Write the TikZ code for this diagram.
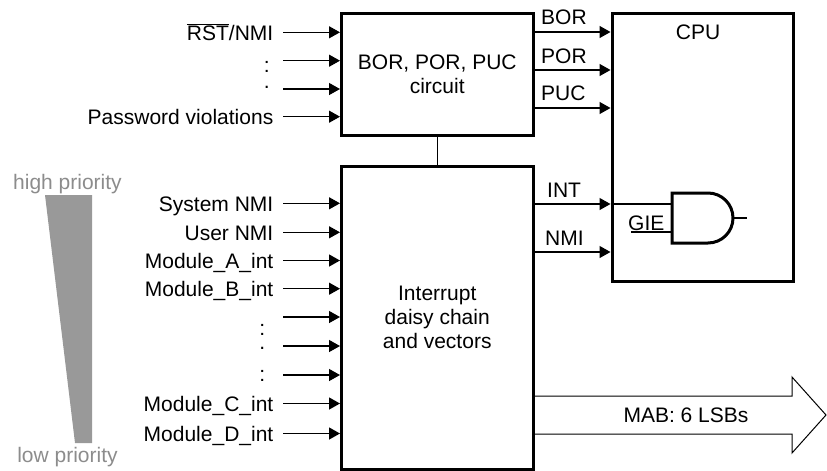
\documentclass[tikz,border=0pt]{standalone}
\usepackage{fontspec}
\setmainfont{Liberation Sans}
\usetikzlibrary{arrows.meta}
\begin{document}
\begin{tikzpicture}[x=1pt,y=-1pt,
  every node/.style={font=\fontsize{21}{24}\selectfont},
  box/.style={draw, line width=3pt, inner sep=0pt, align=center},
  lab/.style={anchor=east, inner xsep=9.5pt, inner ysep=0pt, text height=16pt, text depth=0pt},
  dotlab/.style={anchor=base east, inner sep=0pt},
  olab/.style={anchor=base west, inner sep=0pt},
  arr/.style={line width=1.3pt, -{Triangle[length=11pt,width=12pt]}},
  wire/.style={line width=1.1pt},
  prio/.style={text=black!45, inner sep=0pt, anchor=base},
]
\useasboundingbox (0,0) rectangle (827,471);

% main blocks
\node[box, minimum width=191.5pt, minimum height=122.5pt] (bpc) at (437.25,74.5) {BOR, POR, PUC\\circuit};
\node[box, minimum width=191.5pt, minimum height=303pt] (idc) at (437.25,317.5) {Interrupt\\daisy chain\\and vectors};
\node[box, minimum width=181pt, minimum height=268pt] (cpu) at (702.5,147) {};
\node (cputxt) at (698,32) {CPU};

\draw[wire] (bpc.south) -- (idc.north);

% inputs of the reset circuit
\node[lab] (rst) at (283,32.3) {$\overline{\mbox{RST}}$/NMI};
\node[lab] (pwd) at (283,116.7) {Password violations};
\node[dotlab] (d1) at (270,72.5) {:};
\node[dotlab] (d2) at (270,88.5) {.};
\coordinate (s1) at (283,60.7);
\coordinate (s2) at (283,89);
\foreach \n in {rst,s1,s2,pwd} \draw[arr] (\n.east) -- (\n.east -| bpc.west);

% inputs of the interrupt chain
\node[lab] (sys) at (283,203.3) {System NMI};
\node[lab] (usr) at (283,232.3) {User NMI};
\node[lab] (ma) at (283,260.5) {Module\_A\_int};
\node[lab] (mb) at (283,288.7) {Module\_B\_int};
\node[lab] (mc) at (283,403.5) {Module\_C\_int};
\node[lab] (md) at (283,433.5) {Module\_D\_int};
\node[dotlab] (d3) at (265.5,335) {:};
\node[dotlab] (d4) at (265.5,349) {.};
\node[dotlab] (d5) at (265.5,381) {:};
\coordinate (s3) at (283,317);
\coordinate (s4) at (283,346);
\coordinate (s5) at (283,375);
\foreach \n in {sys,usr,ma,mb,s3,s4,s5,mc,md} \draw[arr] (\n.east) -- (\n.east -| idc.west);

% reset outputs
\coordinate (ybor) at (0,32);
\coordinate (ypor) at (0,70);
\coordinate (ypuc) at (0,108);
\draw[arr] (bpc.east |- ybor) -- (cpu.west |- ybor);
\draw[arr] (bpc.east |- ypor) -- (cpu.west |- ypor);
\draw[arr] (bpc.east |- ypuc) -- (cpu.west |- ypuc);
\node[olab] (lbor) at (541,24) {BOR};
\node[olab] (lpor) at (541,63) {POR};
\node[olab] (lpuc) at (541,100.5) {PUC};

% interrupt outputs
\coordinate (yint) at (0,204);
\coordinate (ynmi) at (0,252);
\draw[arr] (idc.east |- yint) -- (cpu.west |- yint);
\draw[arr] (idc.east |- ynmi) -- (cpu.west |- ynmi);
\node[olab] (lint) at (547,197) {INT};
\node[olab] (lnmi) at (545,245) {NMI};

% AND gate
\coordinate (gin1) at (672,204);
\coordinate (gin2) at (672,232);
\coordinate (gie) at (631,232);
\coordinate (gout) at (733,218);
\coordinate (gend) at (747,218);
\draw[wire] (cpu.west |- yint) -- (gin1);
\draw[wire] (gie) -- (gin2);
\node[olab] (lgie) at (628,230) {GIE};
\draw[line width=3pt, line join=miter] (672,193) -- (708,193)
  .. controls (721.8,193) and (733,204.2) .. (gout)
  .. controls (733,231.8) and (721.8,243) .. (708,243) -- (672,243) -- cycle;
\draw[wire] (gout) -- (gend);

% MAB bus arrow
\coordinate (ymab1) at (0,396);
\coordinate (ymab2) at (0,434);
\draw[line width=1pt, line join=miter] (idc.east |- ymab1) -- (792,396) -- (792,377) -- (826,415)
  -- (792,453) -- (792,434) -- (idc.east |- ymab2);
\node (lmab) at (686,415) {MAB: 6 LSBs};

% priority wedge
\fill[black!40] (45,195) -- (92,195) -- (92,443) -- (75,443) -- cycle;
\node[prio] (hp) at (67.5,189) {high priority};
\node[prio] (lp) at (67.5,462) {low priority};
\end{tikzpicture}
\end{document}
